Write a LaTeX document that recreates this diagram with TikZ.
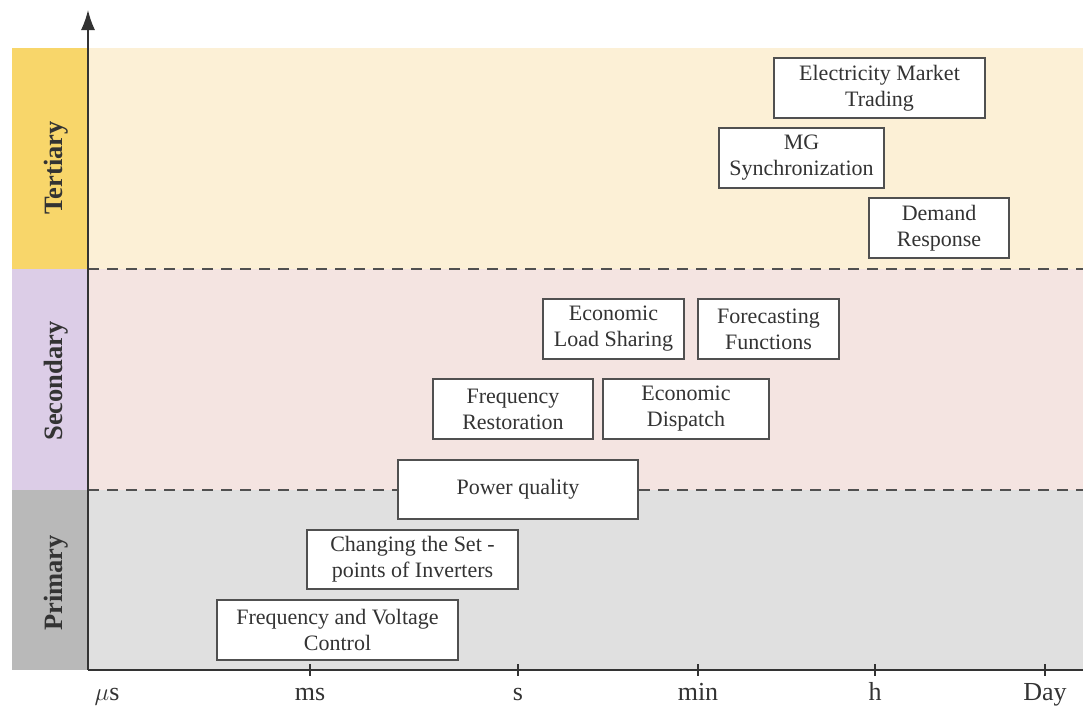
\documentclass[tikz,border=0pt]{standalone}
\usepackage{fontspec}
\setmainfont{Liberation Serif}
\usetikzlibrary{arrows.meta}
\definecolor{terL}{HTML}{F8D66A}
\definecolor{terB}{HTML}{FCF0D6}
\definecolor{secL}{HTML}{DCCDE7}
\definecolor{secB}{HTML}{F4E4E1}
\definecolor{priL}{HTML}{B9B9B9}
\definecolor{priB}{HTML}{E0E0E0}
\definecolor{ink}{HTML}{333333}
\definecolor{frame}{HTML}{505050}
\tikzset{
  fnbox/.style={draw=frame, line width=1.4pt, fill=white, inner sep=0pt, align=center,
    text=ink, font=\fontsize{22}{26}\selectfont},
  lvl/.style={rotate=90, font=\fontsize{26.5}{30}\selectfont\bfseries, text=ink},
  ticklab/.style={anchor=base, font=\fontsize{26}{30}\selectfont, text=ink},
  sep/.style={draw=frame, line width=1.5pt, dash pattern=on 11pt off 8pt},
  axis/.style={draw=ink, line width=1.5pt},
}
\begin{document}
\begin{tikzpicture}[x=1pt,y=-1pt]
\useasboundingbox (0,0) rectangle (1083,705);
% bands
\fill[terB] (88,48) rectangle (1083,269);
\fill[secB] (88,269) rectangle (1083,490);
\fill[priB] (88,490) rectangle (1083,670);
\fill[terL] (12,48) rectangle (88,269);
\fill[secL] (12,269) rectangle (88,490);
\fill[priL] (12,490) rectangle (88,670);
\node[lvl] (lt) at (56,168) {Tertiary};
\node[lvl] (ls) at (56,381) {Secondary};
\node[lvl] (lp) at (56,583) {Primary};
% separators
\coordinate (d1a) at (88,269); \coordinate (d1b) at (1083,269);
\coordinate (d2a) at (88,490); \coordinate (d2b) at (1083,490);
\draw[sep] (d1a) -- (d1b);
\draw[sep] (d2a) -- (d2b);
% axes
\coordinate (o) at (88,670);
\coordinate (top) at (88,10);
\coordinate (xend) at (1083,670);
\draw[axis, -{Latex[length=20pt,width=14pt]}] (o) -- (top);
\draw[axis] (o) -- (xend);
% ticks
\foreach \x/\n in {310/ms,518/s,698/min,875/h,1045/Day}{
  \draw[ink, line width=1.2pt] (\x,664) -- (\x,676);
  \node[ticklab] (t\n) at (\x,700) {\n};
}
\node[ticklab] (tus) at (107,700) {$\mu$s};
% boxes
\node[fnbox, minimum width=211pt, minimum height=60pt] (emt) at (879.5,88) {Electricity Market\\Trading};
\node[fnbox, minimum width=165pt, minimum height=60pt] (mgs) at (801.5,158) {MG\\Synchronization};
\node[fnbox, minimum width=140pt, minimum height=60pt] (dr) at (939,228) {Demand\\Response};
\node[fnbox, minimum width=141pt, minimum height=60pt] (els) at (613.5,329) {Economic\\Load Sharing};
\node[fnbox, minimum width=141pt, minimum height=60pt] (ff) at (768.5,329) {Forecasting\\Functions};
\node[fnbox, minimum width=160pt, minimum height=60pt] (fr) at (513,409) {Frequency\\Restoration};
\node[fnbox, minimum width=166pt, minimum height=60pt] (ed) at (686,409) {Economic\\Dispatch};
\node[fnbox, minimum width=240pt, minimum height=59pt] (pq) at (518,489.5) {Power quality};
\node[fnbox, minimum width=211pt, minimum height=59pt] (csp) at (412.5,559.5) {Changing the Set -\\points of Inverters};
\node[fnbox, minimum width=241pt, minimum height=60pt] (fvc) at (337.5,630) {Frequency and Voltage\\Control};
\end{tikzpicture}
\end{document}
